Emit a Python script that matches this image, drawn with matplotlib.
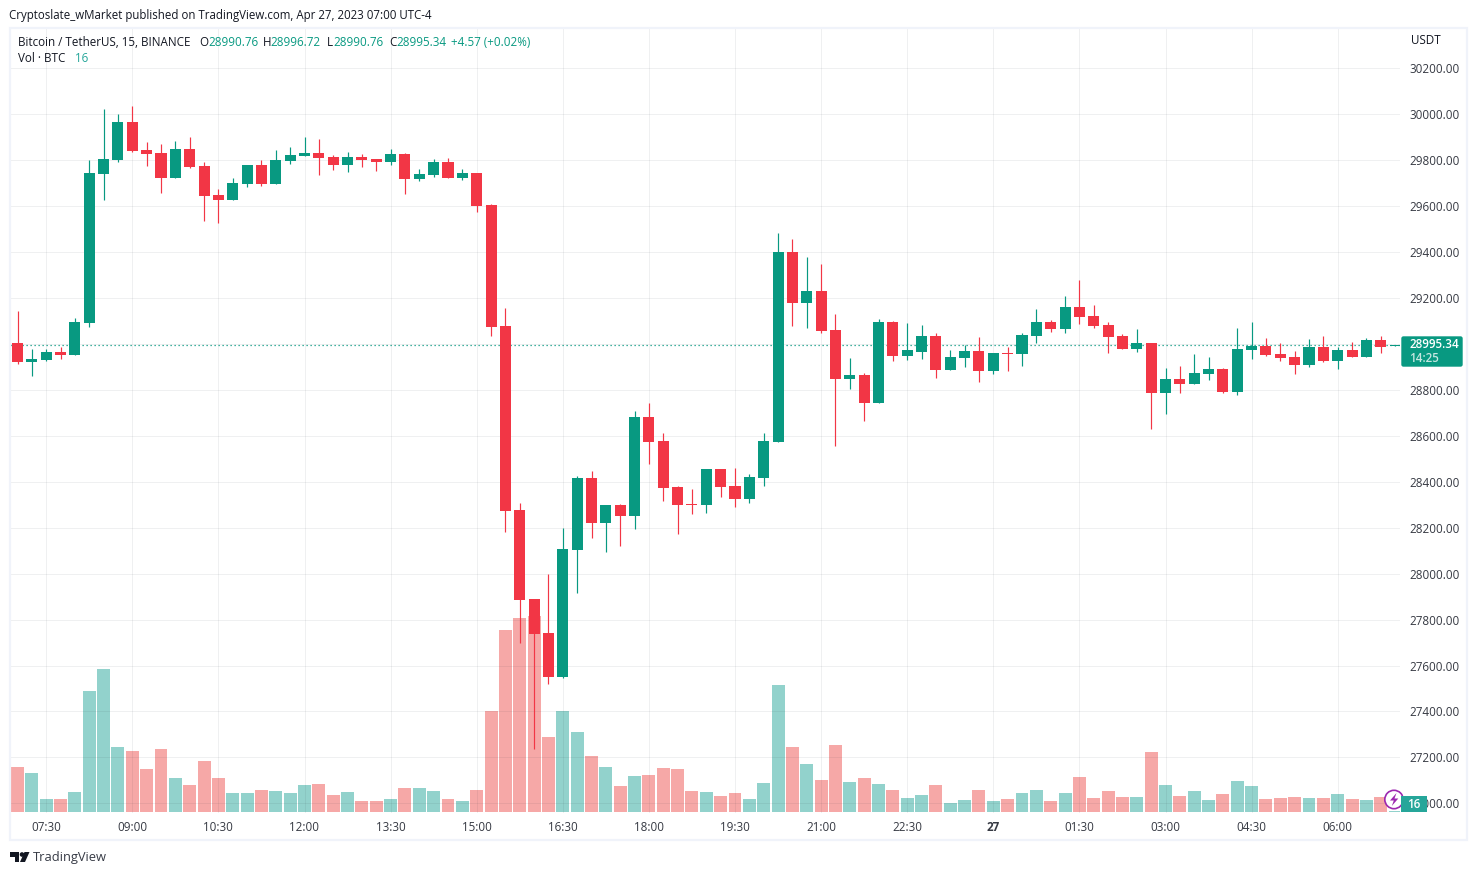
import matplotlib
matplotlib.use("Agg")
import matplotlib.pyplot as plt
from matplotlib.patches import Rectangle, Circle, Polygon, FancyBboxPatch

opens = [29004,28922,28930,28965,28952,29091,29740,29801,29967,29845,29832,29723,29849,29775,29649,29627,29697,29779,29697,29797,29819,29832,29814,29779,29814,29806,29792,29827,29718,29736,29792,29723,29745,29606,29079,28278,27890,27742,27551,28104,28417,28221,28300,28252,28683,28578,28378,28304,28300,28456,28382,28326,28417,28574,29401,29179,29231,29062,28848,28866,28744,29096,28948,28966,29036,28888,28940,28971,28884,28962,28958,29036,29097,29066,29162,29123,29084,29036,28979,29006,28788,28849,28827,28871,28892,28792,28975,28992,28958,28945,28910,28988,28927,28975,28945,29019,28990.76]
highs = [29144,28978,28978,28987,29113,29801,30023,30001,30036,29880,29871,29884,29901,29792,29675,29723,29779,29801,29845,29858,29901,29893,29823,29836,29827,29806,29849,29832,29762,29806,29810,29762,29745,29610,29157,28308,27890,27999,28199,28426,28448,28300,28304,28709,28744,28613,28382,28369,28456,28456,28461,28434,28613,29484,29458,29379,29349,29131,28940,28874,29109,29101,29092,29084,29049,28975,28997,29032,28962,28988,29049,29154,29106,29210,29280,29171,29097,29045,29066,29006,28897,28905,28958,28945,28897,29071,29097,29027,29006,28971,29023,29036,28988,29010,29027,29036,28996.72]
lows = [28913,28861,28926,28935,28952,29074,29627,29792,29836,29775,29657,29723,29766,29536,29527,29627,29684,29688,29697,29784,29819,29736,29758,29749,29771,29753,29779,29653,29710,29727,29723,29714,29575,29035,28182,27699,27236,27520,27546,27916,28156,28095,28121,28195,28478,28317,28173,28260,28265,28334,28291,28308,28382,28574,29079,29070,29048,28556,28805,28665,28744,28927,28931,28936,28853,28888,28901,28836,28871,28884,28905,29006,29053,29049,29088,29071,28962,28979,28966,28631,28696,28788,28827,28844,28788,28779,28936,28949,28927,28871,28901,28923,28892,28945,28945,28962,28990.76]
closes = [28922,28935,28965,28952,29096,29745,29806,29967,29840,29827,29723,29849,29771,29644,29627,29701,29779,29697,29801,29823,29832,29810,29779,29814,29801,29792,29827,29718,29740,29792,29723,29745,29601,29075,28273,27886,27738,27551,28108,28417,28221,28300,28252,28683,28574,28374,28300,28300,28456,28378,28326,28421,28578,29401,29179,29231,29057,28848,28866,28744,29096,28948,28974,29036,28888,28945,28971,28884,28962,28958,29040,29097,29066,29162,29119,29080,29032,28979,29006,28788,28849,28827,28875,28892,28792,28979,28992,28953,28940,28910,28988,28927,28975,28945,29019,28988,28995.34]
volumes = [720,624,208,208,320,1936,2288,1040,976,688,1008,544,432,816,544,304,304,352,336,304,432,448,272,320,176,176,208,384,384,336,208,176,352,1616,2912,3104,3136,1200,1616,1280,896,720,416,576,592,704,688,336,320,256,304,208,464,2032,1040,768,512,1072,480,544,448,352,224,272,432,144,192,352,176,208,304,352,176,304,560,224,336,240,240,960,432,256,336,192,288,496,416,208,224,240,224,224,288,208,192,240,16]

price_ticks = [27000 + 200 * k for k in range(17)]
time_ticks = [2 + 6 * k for k in range(16)]
time_labels = ["07:30","09:00","10:30","12:00","13:30","15:00","16:30","18:00","19:30","21:00","22:30","27","01:30","03:00","04:30","06:00"]
last_price = 28995.34

GREEN = "#089981"
RED = "#F23645"
VGREEN = "#26a69a"
VRED = "#ef5350"
INK = "#131722"
FONT = "Open Sans"
W, H = 1477, 875
plt.rcParams["font.family"] = FONT

fig = plt.figure(figsize=(W / 100, H / 100), dpi=100, facecolor="white")

L, R, T, B = 10, 1400, 28, 813
rect = [L / W, 1 - B / H, (R - L) / W, (B - T) / H]
ax_v = fig.add_axes(rect, zorder=1, facecolor="white")
ax = fig.add_axes(rect, zorder=2)
ax.patch.set_visible(False)

# scales
xlim = ((L - 17.5) / 14.35, (R - 17.5) / 14.35)
ylim = (30000 - (B - 114.3) * 4.354, 30000 - (T - 114.3) * 4.354)
idx = list(range(len(opens)))
up = [c >= o for o, c in zip(opens, closes)]

# volume
ax_v.bar(idx, volumes, width=0.9, linewidth=0,
         color=[VGREEN if u else VRED for u in up], alpha=0.5)
ax_v.set_xlim(*xlim)
ax_v.set_ylim(-16, (B - T - 1) * 16)
ax_v.axis("off")

# grid
ax.set_xlim(*xlim)
ax.set_ylim(*ylim)
ax.set_axisbelow(True)
ax.grid(True, color="#2a2e39", alpha=0.07, linewidth=0.72)
for s in ax.spines.values():
    s.set_visible(False)

ax.axhline(last_price, color=GREEN, linewidth=0.9, linestyle=(0, (1, 2.2)), zorder=1.5)

# candles
colors = [GREEN if u else RED for u in up]
ax.vlines(idx, lows, highs, colors=colors, linewidth=0.85, zorder=2)
min_h = 4.5
bottoms = [min(o, c) for o, c in zip(opens, closes)]
heights = [max(abs(c - o), min_h) for o, c in zip(opens, closes)]
ax.bar(idx, heights, bottom=bottoms, width=0.767, color=colors, linewidth=0, zorder=3)

# ticks
ax.yaxis.tick_right()
ax.set_yticks(price_ticks)
ax.set_yticklabels([f"{p:.2f}" for p in price_ticks], fontsize=8.4, color=INK, alpha=0.85)
ax.set_xticks(time_ticks)
ax.set_xticklabels(time_labels, fontsize=8.4, color=INK, alpha=0.85)
ax.tick_params(axis="both", length=0)
ax.tick_params(axis="y", pad=6.5)
ax.tick_params(axis="x", pad=5.5)
for lab in ax.get_xticklabels():
    if lab.get_text() == "27":
        lab.set_fontweight("bold")

# page overlay in pixel coordinates
ov = fig.add_axes([0, 0, 1, 1], zorder=5)
ov.set_xlim(0, W)
ov.set_ylim(H, 0)
ov.axis("off")
ov.patch.set_visible(False)
ov.add_patch(Rectangle((10, 27.5), 1457, 812, fill=False, edgecolor="#f0f3fa", linewidth=1.6))


def t(x, y, s, color=INK, size=8.4, **kw):
    return ov.text(x, y, s, color=color, fontsize=size, va="center", ha=kw.pop("ha", "left"), **kw)


t(9, 15, "Cryptoslate_wMarket published on TradingView.com, Apr 27, 2023 07:00 UTC-4", size=8.3)
t(18, 42, "Bitcoin / TetherUS, 15, BINANCE")
for x, s in [(199, "O"), (263, "H"), (327, "L"), (389, "C")]:
    t(x, 42, s)
for x, s in [(208, "28990.76"), (270, "28996.72"), (333, "28990.76"), (396, "28995.34"), (451, "+4.57 (+0.02%)")]:
    t(x, 42, s, color=GREEN)
t(18, 59, "Vol · BTC")
t(75, 59, "16", color=VGREEN)
t(1411, 41, "USDT")

# lightning badge
ov.add_patch(Circle((1394, 799.5), 9.2, facecolor="white", edgecolor="#9c27b0", linewidth=1.2))
ov.add_patch(Polygon([(1396.5, 793), (1390, 800.5), (1393.8, 800.5), (1391.8, 806), (1398.3, 798.5), (1394.5, 798.5)],
                     closed=True, facecolor="#9c27b0", edgecolor="none"))

# price tag
ov.add_patch(FancyBboxPatch((1402, 337), 60, 29, boxstyle="round,pad=0,rounding_size=1.5",
                            facecolor=GREEN, edgecolor=GREEN, linewidth=1))
t(1409, 345, "28995.34", color="white", fontweight="semibold")
t(1409, 359, "14:25", color="#c5e6e0", fontweight="semibold")

# volume tag
ov.add_patch(Rectangle((1401, 796), 26, 16, facecolor=VGREEN, edgecolor="none"))
t(1414, 804.5, "16", color="white", ha="center", fontweight="semibold")

# footer logo
ov.add_patch(Polygon([(10, 852), (19, 852), (19, 862), (14.5, 862), (14.5, 857), (10, 857)],
                     closed=True, facecolor=INK, edgecolor="none"))
ov.add_patch(Circle((22, 854.5), 2.3, facecolor=INK, edgecolor="none"))
ov.add_patch(Polygon([(24.5, 852), (29.5, 852), (25, 862), (20, 862)],
                     closed=True, facecolor=INK, edgecolor="none"))
t(33, 857.5, "TradingView", color="#363a45", size=9.3)

fig.savefig("out.png", dpi=100, facecolor="white")
